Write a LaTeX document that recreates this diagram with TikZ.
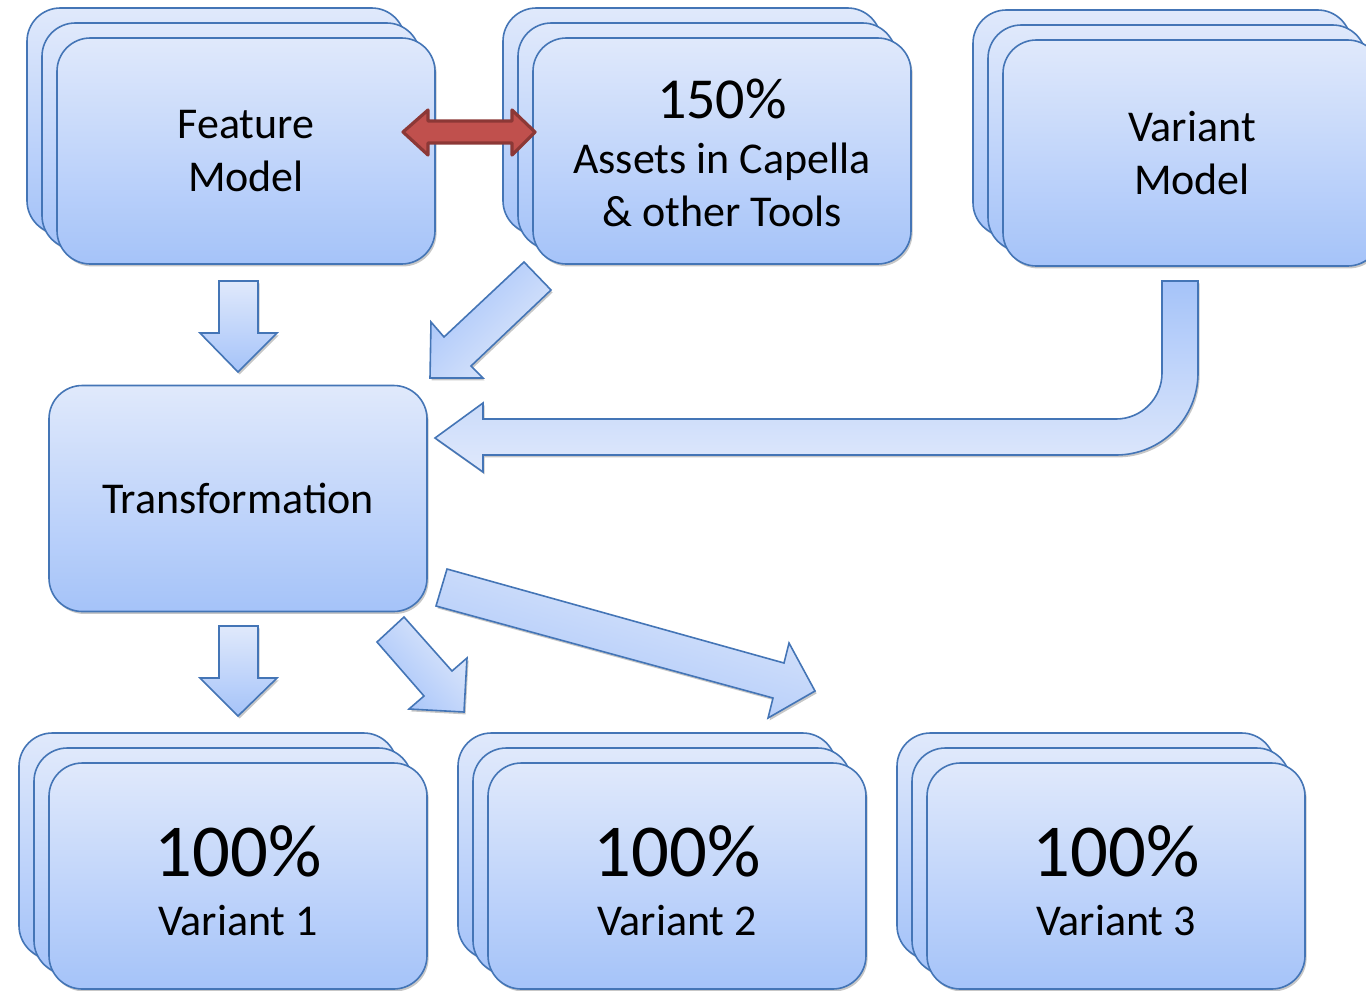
\documentclass[tikz,border=0pt]{standalone}
\usepackage{fontspec}
\setmainfont{Carlito}
\usetikzlibrary{shadows}
\definecolor{bxtop}{RGB}{224,233,251}
\definecolor{bxbot}{RGB}{165,195,249}
\definecolor{bxline}{RGB}{68,117,182}
\definecolor{redfill}{RGB}{192,80,77}
\definecolor{redline}{RGB}{140,56,54}
\newcommand{\topstrut}[1]{\rule{0pt}{#1}}
\begin{document}
\begin{tikzpicture}[x=0.75pt,y=-0.75pt,
  softshadow/.style={drop shadow={shadow xshift=1.2pt,shadow yshift=-1.8pt,opacity=0.22,fill=black}},
  card/.style={rectangle, rounded corners=25pt, minimum width=283.5pt, minimum height=169.5pt,
    draw=bxline, line width=1.2pt, top color=bxtop, bottom color=bxbot, align=center,
    font=\fontsize{33}{39.75}\selectfont, inner sep=0pt, softshadow},
  blockarrow/.style={draw=bxline, line width=1.2pt, line join=miter, softshadow}]
\clip (0,0) rectangle (1366,990);
\fill[white] (0,0) rectangle (1366,990);

% Feature Model
\node[card] (fmB2) at (216,121) {};
\node[card] (fmB1) at (231,136) {};
\node[card] (fm) at (246,151) {Feature\\Model};

% 150% assets
\node[card] (asB2) at (692,121) {};
\node[card] (asB1) at (707,136) {};
\node[card] (as) at (722,151) {{\fontsize{43.5}{39.75}\selectfont\topstrut{32.5pt}150\%}\\[1.5pt]Assets in Capella\\\& other Tools};

% Variant Model
\node[card] (vmB2) at (1162,123) {};
\node[card] (vmB1) at (1177,138) {};
\node[card] (vm) at (1192,153) {Variant\\Model};

% Transformation
\node[card] (tr) at (238,498.5) {Transformation};

% Variants
\node[card] (v1B2) at (208,846) {};
\node[card] (v1B1) at (223,861) {};
\node[card] (v1) at (238,876) {{\fontsize{56}{39.75}\selectfont\topstrut{45pt}100\%}\\[5pt]Variant 1};
\node[card] (v2B2) at (647,846) {};
\node[card] (v2B1) at (662,861) {};
\node[card] (v2) at (677,876) {{\fontsize{56}{39.75}\selectfont\topstrut{45pt}100\%}\\[5pt]Variant 2};
\node[card] (v3B2) at (1086,846) {};
\node[card] (v3B1) at (1101,861) {};
\node[card] (v3) at (1116,876) {{\fontsize{56}{39.75}\selectfont\topstrut{45pt}100\%}\\[5pt]Variant 3};

% Feature Model -> Transformation
\draw[blockarrow, top color=bxtop, bottom color=bxbot]
  (219,281) -- (258,281) -- (258,333) -- (277,333) -- (238,372) -- (200,333) -- (219,333) -- cycle;
% Assets -> Transformation
\draw[blockarrow, left color=bxbot, right color=bxtop, shading angle=45]
  (524,262) -- (551,290) -- (471,366) -- (483,378) -- (430,378) -- (431,322) -- (444,337) -- cycle;
% Variant Model -> Transformation (U-turn)
\draw[blockarrow, top color=bxbot, bottom color=bxtop]
  (1162,281) -- (1198,281) -- (1198,373) arc[start angle=0,end angle=90,radius=82]
  -- (483,455) -- (483,472) -- (435,438) -- (483,403) -- (483,419) -- (1116,419)
  arc[start angle=90,end angle=0,radius=46] -- cycle;
% Transformation -> Variant 1
\draw[blockarrow, top color=bxtop, bottom color=bxbot]
  (219,626) -- (258,626) -- (258,678) -- (277,678) -- (238,716) -- (200,678) -- (219,678) -- cycle;
% Transformation -> Variant 2
\draw[blockarrow, left color=bxtop, right color=bxbot, shading angle=-48]
  (404,617) -- (452,671) -- (467,658) -- (464,712) -- (409,709) -- (424,696) -- (377,642) -- cycle;
% Transformation -> Variant 3
\draw[blockarrow, left color=bxtop, right color=bxbot, shading angle=-16]
  (447,569) -- (784,663) -- (789,643) -- (815,691) -- (768,718) -- (773,698) -- (436,606) -- cycle;

% Feature Model <-> Assets
\draw[fill=redfill, draw=redline, line width=2.4pt, line join=round]
  (403,132) -- (428,110) -- (428,121) -- (512,121) -- (512,110) -- (535,132)
  -- (512,155) -- (512,143) -- (428,143) -- (428,155) -- cycle;
\end{tikzpicture}
\end{document}
